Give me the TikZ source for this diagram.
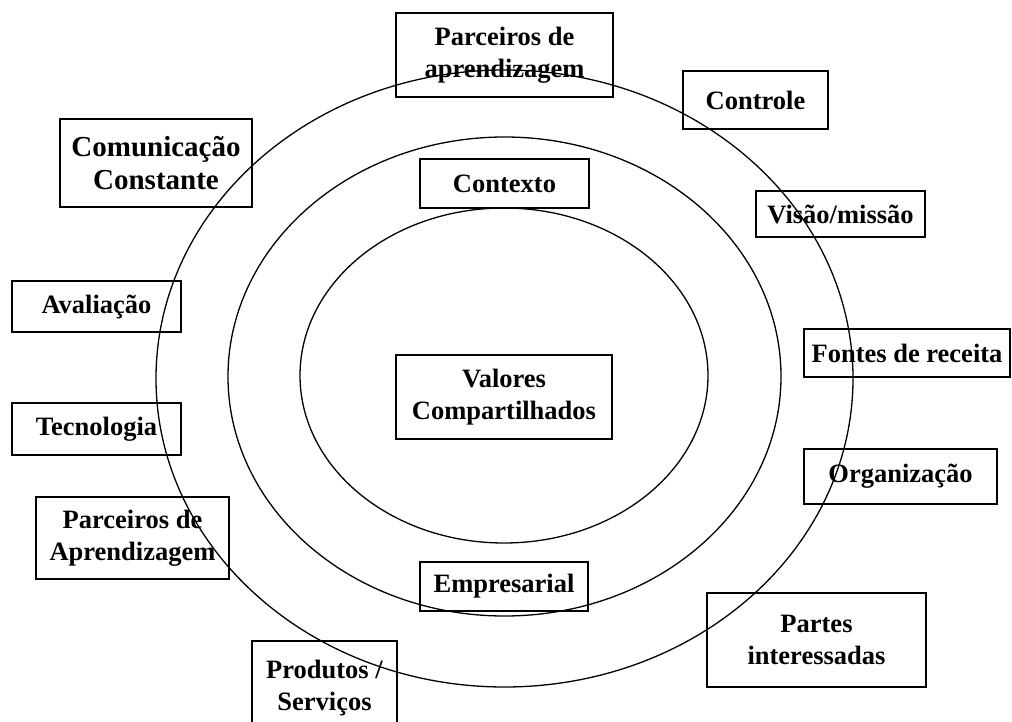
\documentclass[tikz,border=0pt]{standalone}
\usepackage{fontspec}
\setmainfont{Liberation Serif}
\usetikzlibrary{shapes.geometric}
\tikzset{
  lbl/.style={draw, line width=1.6pt, rectangle, inner sep=0pt, align=center,
    font=\fontsize{26.5}{32}\selectfont\bfseries},
  ring/.style={draw, line width=1.3pt, ellipse, inner sep=0pt}
}
\begin{document}
\begin{tikzpicture}[x=1pt, y=-1pt]
\clip (0,0) rectangle (1012,722);
% boxes
\node[lbl, minimum width=217pt, minimum height=84pt] (p1) at (504.5,55) {Parceiros de\\aprendizagem};
\node[lbl, minimum width=145pt, minimum height=58pt] (ctrl) at (755.5,100) {Controle};
\node[lbl, minimum width=192pt, minimum height=88pt, font=\fontsize{29}{33}\selectfont\bfseries] (com) at (156,163) {Comunicação\\Constante};
\node[lbl, minimum width=169pt, minimum height=49pt] (ctx) at (504.5,183.5) {Contexto};
\node[lbl, minimum width=169pt, minimum height=46pt] (vis) at (840.5,214) {Visão/missão};
\node[lbl, minimum width=169pt, minimum height=51pt] (ava) at (96.5,306.5) {Avaliação};
\node[lbl, minimum width=206pt, minimum height=48pt] (fon) at (907,353) {Fontes de receita};
\node[lbl, minimum width=216pt, minimum height=84pt] (val) at (504,397) {Valores\\Compartilhados};
\node[lbl, minimum width=169pt, minimum height=52pt] (tec) at (96.5,429) {Tecnologia};
\node[lbl, minimum width=193pt, minimum height=55pt] (org) at (900.5,476.5) {Organização};
\node[lbl, minimum width=193pt, minimum height=82pt] (p2) at (132.5,538) {Parceiros de\\Aprendizagem};
\node[lbl, minimum width=168pt, minimum height=49pt] (emp) at (504,586.5) {Empresarial};
\node[lbl, minimum width=219pt, minimum height=94pt] (par) at (816.5,640) {Partes\\interessadas};
\node[lbl, minimum width=145pt, minimum height=94pt] (prod) at (324.5,688) {Produtos /\\Serviços};
% rings
\node[ring, minimum width=697pt, minimum height=617pt] (outer) at (504.5,378.5) {};
\node[ring, minimum width=553pt, minimum height=479pt] (middle) at (504.5,376.5) {};
\node[ring, minimum width=408pt, minimum height=335pt] (inner) at (504,375.5) {};
\end{tikzpicture}
\end{document}
